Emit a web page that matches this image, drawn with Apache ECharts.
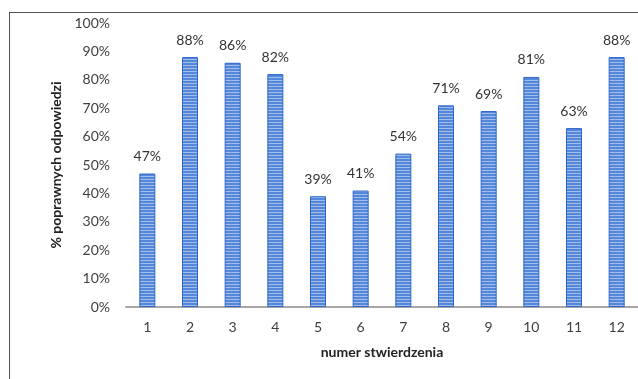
<!DOCTYPE html>
<html><head><meta charset="utf-8">
<script src="https://cdn.jsdelivr.net/npm/echarts@6/dist/echarts.min.js"></script>
<style>
html,body{margin:0;padding:0;background:#fff;overflow:hidden;width:638px;height:379px;position:relative}
#frame{position:absolute;left:9px;top:12px;width:700px;height:400px;border-left:1px solid #555;border-top:1px solid #555}
#c{position:absolute;left:0;top:0;width:638px;height:379px}
</style>
</head><body><div id="frame"></div><div id="c"></div>
<script>
const categories = ['1','2','3','4','5','6','7','8','9','10','11','12'];
const values = [47,88,86,82,39,41,54,71,69,81,63,88];
const yTicks = [0,10,20,30,40,50,60,70,80,90,100];

const pc = document.createElement('canvas');
pc.width = 4; pc.height = 3;
const g = pc.getContext('2d');
g.fillStyle = '#5388db'; g.fillRect(0,0,4,3);
g.fillStyle = '#a3bde8'; g.fillRect(0,2,4,1);

const chart = echarts.init(document.getElementById('c'), null, {renderer:'canvas'});
const font = 'Lato, "Open Sans", sans-serif';
chart.setOption({
  animation:false,
  textStyle:{fontFamily:font},
  grid:{left:126, width:516, top:23, bottom:72, containLabel:false},
  xAxis:{type:'category', data:categories,
    axisLine:{lineStyle:{color:'#a6a6a6', width:2}}, axisTick:{show:false},
    axisLabel:{color:'#404040', fontSize:14, margin:13, fontFamily:font},
    name:'numer stwierdzenia', nameLocation:'middle', nameGap:38,
    nameTextStyle:{color:'#222', fontSize:14, fontWeight:'bold', fontFamily:font}},
  yAxis:{type:'value', min:yTicks[0], max:yTicks[yTicks.length-1], interval:10,
    axisLine:{show:false}, axisTick:{show:false}, splitLine:{show:false},
    axisLabel:{color:'#404040', fontSize:14, margin:16, formatter:'{value}%', fontFamily:font},
    name:'% poprawnych odpowiedzi', nameLocation:'middle', nameGap:55,
    nameTextStyle:{color:'#222', fontSize:14, fontWeight:'bold', fontFamily:font}},
  series:[{type:'bar', data:values, barWidth:16,
    itemStyle:{color:{image:pc, repeat:'repeat'}, borderColor:'#2f66cc', borderWidth:1},
    label:{show:true, position:'top', distance:10, formatter:'{c}%', color:'#333', fontSize:14, fontFamily:font}}]
});
</script></body></html>
